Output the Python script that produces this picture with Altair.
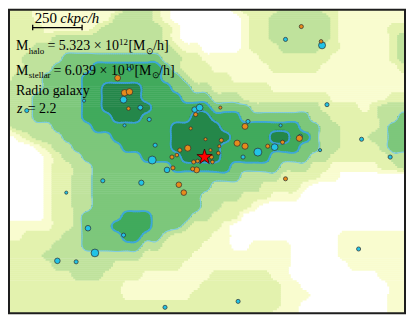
import altair as alt
import numpy as np
import pandas as pd

# ---------------- data ----------------
# projected density level on a node grid (0 = empty ... 6 = densest)
# nodes every 50 ckpc/h in x (41 columns) and y (32 rows, top row first)
GRID = [
    "222" "111111111" "333" "2" "1" "000000" "1" "2222" "3333" "22" "1111111",
    "222" "11111111" "3333" "2" "1" "0000000" "1" "22" "333333" "2" "1" "111111",
    "2222" "11111" "2" "333333" "2" "1" "000000" "1" "22" "333333" "2" "11111" "22",
    "22222" "33333333333" "2" "1" "000000" "1" "22" "333333" "2" "11111" "2" "3",
    "222" "33333333333333" "2" "11" "0000" "1" "222" "3333" "22" "11111" "2" "3",
    "22" "3333" "4444444444" "33" "22" "111111" "2222222" "111111" "2" "3",
    "22" "333" "4444" "5555555" "4" "3" "222" "111111" "22222" "1111111" "1" "2",
    "2" "333" "4444" "55555555" "44" "3" "2222" "111111111111111111",
    "3333" "4444" "55" "6666" "555" "44" "33" "222222" "11111111111111",
    "333" "44444" "55" "6666" "5555" "444" "333" "222222222" "111111" "22",
    "333" "44444" "55" "66666" "555555" "4444" "3333333" "2222" "1" "2" "333",
    "333" "44444" "555" "666" "55555" "66" "555" "4444444" "33" "22222" "33" "4",
    "2" "3333" "4444" "55555555" "66666" "55555555" "44" "33" "2222" "3" "44",
    "0" "1" "2" "333" "4444" "4" "555555" "666666" "5555" "66" "55" "4" "33" "222" "33" "44",
    "000" "1" "2" "33" "4444" "4" "55555" "66666" "55555555" "4" "4" "33" "2222" "3" "44",
    "0000" "1" "2" "33" "444444" "5555" "6666" "55555" "4444" "33" "222222" "33",
    "0000" "1" "22" "33" "4444444" "4" "555555" "4444" "4" "333" "22" "11111" "22" "3",
    "0000" "1" "22" "33" "444444444444444" "3333" "2222" "11" "0000000",
    "0000" "1" "22" "33" "444444444444" "33333" "2222" "1" "0000000000",
    "0000" "1" "22" "33" "44444444444" "3333" "222" "111" "00000000000",
    "0000" "1" "22" "33" "4444444444" "4" "33" "222" "1" "000000000000000",
    "0000" "1" "22" "3" "444" "4" "555" "4444" "33" "222" "00000000000000000",
    "11111" "22" "3" "444" "5555" "44" "4" "3" "222" "1" "000000000000000000",
    "11" "2222" "33" "4444" "55" "44" "3" "2222" "11" "00000000000" "1111111",
    "22222" "333" "444444" "3" "3" "2222" "11" "1" "00" "1111" "00000" "1111111",
    "2222" "3333333333" "22222" "1111111111" "00000" "1111111",
    "22222" "333333" "2222222" "11111111111" "000000" "111111",
    "2222222" "333" "2222" "111111" "1" "222222" "11" "00000000" "0" "111",
    "222222222222" "11111111" "22222222" "11" "000000000" "11",
    "222222222222" "1111111" "2" "22222222" "111" "0000000" "0" "11",
    "2222222222222222222222222222" "11" "000000000" "11",
    "222222222222222222222222222" "111" "000000000" "11",
]
NODE = 50.0            # ckpc/h between grid nodes
XMAX, YMAX = 2015.0, 1545.0

LEVEL_COLORS = ["#ffffff", "#f9fccf", "#e3f2ae", "#bfe29c", "#7dc77b", "#41aa5c", "#24874a"]

# galaxies (ckpc/h) and log10 stellar mass
cyan_x = [95, 385, 585, 670, 715, 590, 615, 745, 730, 945, 970, 1215, 1380, 1265, 1350,
          1480, 1190, 805, 1405, 1590, 1615, 1790, 1580, 1935, 480, 675, 295, 405, 585,
          440, 250, 345, 795, 1775, 1165]
cyan_y = [1030, 1080, 1085, 1045, 985, 955, 1240, 855, 780, 1035, 1045, 975, 955, 820, 845,
          900, 795, 730, 1390, 1360, 1060, 885, 830, 795, 675, 665, 615, 435, 400,
          310, 270, 265, 35, 330, 65]
cyan_m = [8.8, 8.6, 9.6, 9.0, 8.8, 8.6, 8.8, 8.8, 10.1, 9.2, 9.6, 8.8, 8.6, 10.1, 9.6,
          8.8, 8.8, 9.2, 8.8, 9.7, 8.8, 8.8, 8.6, 8.8, 8.8, 9.1, 8.6, 9.2, 8.8,
          10.0, 9.2, 8.8, 8.8, 8.8, 8.8]

orange_x = [555, 590, 615, 610, 950, 1075, 1200, 925, 1000, 1080, 1070, 1160, 1200, 1025,
            910, 870, 855, 830, 1065, 1030, 1035, 940, 960, 955, 935, 835, 1315, 1390,
            1475, 865, 890, 1405, 1485, 1585]
orange_y = [1195, 1120, 1125, 1040, 1010, 1045, 950, 940, 885, 880, 850, 865, 850, 830,
            840, 830, 805, 795, 815, 795, 770, 770, 775, 730, 735, 740, 850, 870,
            890, 655, 615, 685, 1455, 1380]
orange_m = [9.3, 9.5, 9.5, 8.7, 8.8, 8.6, 9.3, 8.6, 8.6, 8.8, 8.6, 9.4, 9.4, 8.6,
            9.4, 8.8, 8.7, 8.8, 8.7, 8.8, 8.7, 8.8, 8.7, 9.3, 8.8, 8.8, 8.8, 8.8,
            9.4, 9.2, 9.2, 8.8, 8.8, 8.7]

host_x, host_y = [995], [795]

SCALEBAR_KPC = 250
SCALEBAR_START = (125, 1450)

# ---------------- density field -> filled levels ----------------
G = np.array([[int(ch) for ch in (row + row[-1] * 41)[:41]] for row in GRID], dtype=float)
NR, NC = G.shape


def cr_weights(f):
    f2, f3 = f * f, f * f * f
    return [(-f3 + 2 * f2 - f) / 2, (3 * f3 - 5 * f2 + 2) / 2,
            (-3 * f3 + 4 * f2 + f) / 2, (f3 - f2) / 2]


def field(x, y):
    cx = np.clip(x / NODE, 0, NC - 1)
    ry = np.clip((YMAX - y) / NODE, 0, NR - 1)
    c0 = np.floor(cx).astype(int)
    r0 = np.floor(ry).astype(int)
    wx = cr_weights(cx - c0)
    wy = cr_weights(ry - r0)
    out = np.zeros_like(cx)
    for a in range(4):
        ri = np.clip(r0 - 1 + a, 0, NR - 1)
        for b in range(4):
            ci = np.clip(c0 - 1 + b, 0, NC - 1)
            out += wy[a] * wx[b] * G[ri, ci]
    return out


STEP = 10.0
xs = np.arange(STEP / 2, XMAX + STEP / 2, STEP)
ys = np.arange(STEP / 2, YMAX + STEP / 2, STEP)
XX, YY = np.meshgrid(xs, ys)
V = field(XX, YY)
L = np.clip(np.floor(V + 0.5 + 1e-9), 0, 6).astype(int)

rects = []
for j, yc in enumerate(ys):
    row = L[j]
    start = 0
    for i in range(1, len(xs) + 1):
        if i == len(xs) or row[i] != row[start]:
            lev = int(row[start])
            if lev > 0:
                rects.append(dict(x=float(xs[start] - STEP / 2),
                                  x2=float(min(xs[i - 1] + STEP / 2 + 1.5, XMAX)),
                                  y=float(max(yc - STEP / 2, 0)),
                                  y2=float(min(yc + STEP / 2 + 2.5, YMAX)),
                                  level=lev))
            start = i
rect_df = pd.DataFrame(rects)


def iso_segments(t):
    t = t - 1e-9
    segs = []
    for j in range(len(ys) - 1):
        for i in range(len(xs) - 1):
            a, b, c, d = V[j, i], V[j, i + 1], V[j + 1, i + 1], V[j + 1, i]
            k = int(a > t) | (int(b > t) << 1) | (int(c > t) << 2) | (int(d > t) << 3)
            if k == 0 or k == 15:
                continue
            x0, x1, y0, y1 = xs[i], xs[i + 1], ys[j], ys[j + 1]

            def E(name):
                if name == "B":
                    return (x0 + (t - a) / (b - a) * (x1 - x0), y0)
                if name == "R":
                    return (x1, y0 + (t - b) / (c - b) * (y1 - y0))
                if name == "T":
                    return (x0 + (t - d) / (c - d) * (x1 - x0), y1)
                return (x0, y0 + (t - a) / (d - a) * (y1 - y0))

            m = (a + b + c + d) / 4
            table = {1: [("L", "B")], 2: [("B", "R")], 3: [("L", "R")], 4: [("R", "T")],
                     5: [("B", "R"), ("T", "L")] if m > t else [("L", "B"), ("R", "T")],
                     6: [("B", "T")], 7: [("L", "T")], 8: [("T", "L")], 9: [("B", "T")],
                     10: [("L", "B"), ("R", "T")] if m > t else [("B", "R"), ("T", "L")],
                     11: [("R", "T")], 12: [("L", "R")], 13: [("B", "R")], 14: [("L", "B")]}
            for p, q in table[k]:
                (px, py), (qx, qy) = E(p), E(q)
                segs.append(dict(x=float(px), y=float(py), x2=float(qx), y2=float(qy)))
    return pd.DataFrame(segs)


# ---------------- chart ----------------
W, H = 400, 307
SX, SY = W / 403.0, H / 309.0
xsc = alt.Scale(domain=[0, XMAX], nice=False, zero=False)
ysc = alt.Scale(domain=[0, YMAX], nice=False, zero=False)
X = alt.X("x:Q", scale=xsc, axis=None)
Y = alt.Y("y:Q", scale=ysc, axis=None)

fills = []
for lev in range(1, 7):
    sub = rect_df[rect_df["level"] == lev]
    fills.append(alt.Chart(sub).mark_rect(color=LEVEL_COLORS[lev], clip=True).encode(
        x=X, x2="x2:Q", y=Y, y2="y2:Q"))

lines = []
for t, col, wdt in [(3.5, "#7fcde3", 1.0), (4.5, "#3ea8d8", 1.7), (5.5, "#3aa0d6", 1.7)]:
    seg = iso_segments(t)
    lines.append(alt.Chart(seg).mark_rule(color=col, strokeWidth=wdt, strokeCap="round",
                                          clip=True).encode(x=X, y=Y, x2="x2:Q", y2="y2:Q"))

size_scale = alt.Scale(domain=[8.6, 10.1], range=[10, 64], zero=False)
cyan_df = pd.DataFrame({"x": cyan_x, "y": cyan_y, "logm": cyan_m})
orange_df = pd.DataFrame({"x": orange_x, "y": orange_y, "logm": orange_m})
pts_cyan = alt.Chart(cyan_df).mark_circle(
    opacity=1, color="#22c3e6", stroke="#2e2e2e", strokeWidth=0.7).encode(
    x=X, y=Y, size=alt.Size("logm:Q", scale=size_scale, legend=None))
pts_orange = alt.Chart(orange_df).mark_circle(
    opacity=1, color="#e68a1c", stroke="#2e2e2e", strokeWidth=0.7).encode(
    x=X, y=Y, size=alt.Size("logm:Q", scale=size_scale, legend=None))

STAR = ("M0,-1L0.225,-0.309L0.951,-0.309L0.363,0.118L0.588,0.809L0,0.382"
        "L-0.588,0.809L-0.363,0.118L-0.951,-0.309L-0.225,-0.309Z")
host = alt.Chart(pd.DataFrame({"x": host_x, "y": host_y})).mark_point(
    shape=STAR, filled=True, color="#ff0000", stroke="#3a0000", strokeWidth=0.8,
    size=260, opacity=1).encode(x=X, y=Y)

sb = pd.DataFrame({"x": [SCALEBAR_START[0]], "x2": [SCALEBAR_START[0] + SCALEBAR_KPC],
                   "y": [SCALEBAR_START[1]]})
bar = alt.Chart(sb).mark_rule(color="black", strokeWidth=1.3).encode(x=X, x2="x2:Q", y=Y)
ticks_df = pd.DataFrame({"x": [SCALEBAR_START[0], SCALEBAR_START[0] + SCALEBAR_KPC],
                         "y": [SCALEBAR_START[1] - 14] * 2, "y2": [SCALEBAR_START[1] + 14] * 2})
ticks = alt.Chart(ticks_df).mark_rule(color="black", strokeWidth=1.3).encode(x=X, y=Y, y2="y2:Q")

FONT = "Liberation Serif"
BIG, SMALL = 14, 9


def label(txt, px, py, size=BIG, italic=False):
    return alt.Chart(pd.DataFrame({"t": [txt]})).mark_text(
        align="left", baseline="alphabetic", font=FONT, fontSize=size,
        fontStyle="italic" if italic else "normal", color="black",
    ).encode(text="t:N", x=alt.value((px - 6) * SX), y=alt.value((py - 6) * SY))


texts = [
    label("250", 33, 20, 15), label("ckpc/h", 59, 20, 15, italic=True),
    label("M", 14, 48), label("halo", 27, 51.5, SMALL), label("= 5.323 × 10", 46, 48),
    label("12", 118.5, 42.5, SMALL), label("[M", 128, 48), label("⊙", 145.5, 51.5, SMALL),
    label("/h]", 153, 48),
    label("M", 14, 73), label("stellar", 27, 76.5, SMALL), label("= 6.039 × 10", 52, 73),
    label("10", 124.5, 67.5, SMALL), label("[M", 134, 73), label("⊙", 151.5, 76.5, SMALL),
    label("/h]", 159, 73),
    label("Radio galaxy", 14, 93),
    label("z", 15, 111, italic=True), label("= 2.2", 26, 111),
]

frame = alt.Chart(pd.DataFrame({"a": [0]})).mark_rect(
    filled=False, stroke="#1e1e1e", strokeWidth=2).encode(
    x=alt.value(1), x2=alt.value(W - 1), y=alt.value(1), y2=alt.value(H - 1))

chart = alt.layer(*fills, *lines, pts_cyan, pts_orange, host, bar, ticks, *texts, frame).properties(
    width=W, height=H, padding=0, background="white"
).configure_view(strokeWidth=0)

chart.save("out.html", embed_options={"renderer": "svg", "actions": False})
